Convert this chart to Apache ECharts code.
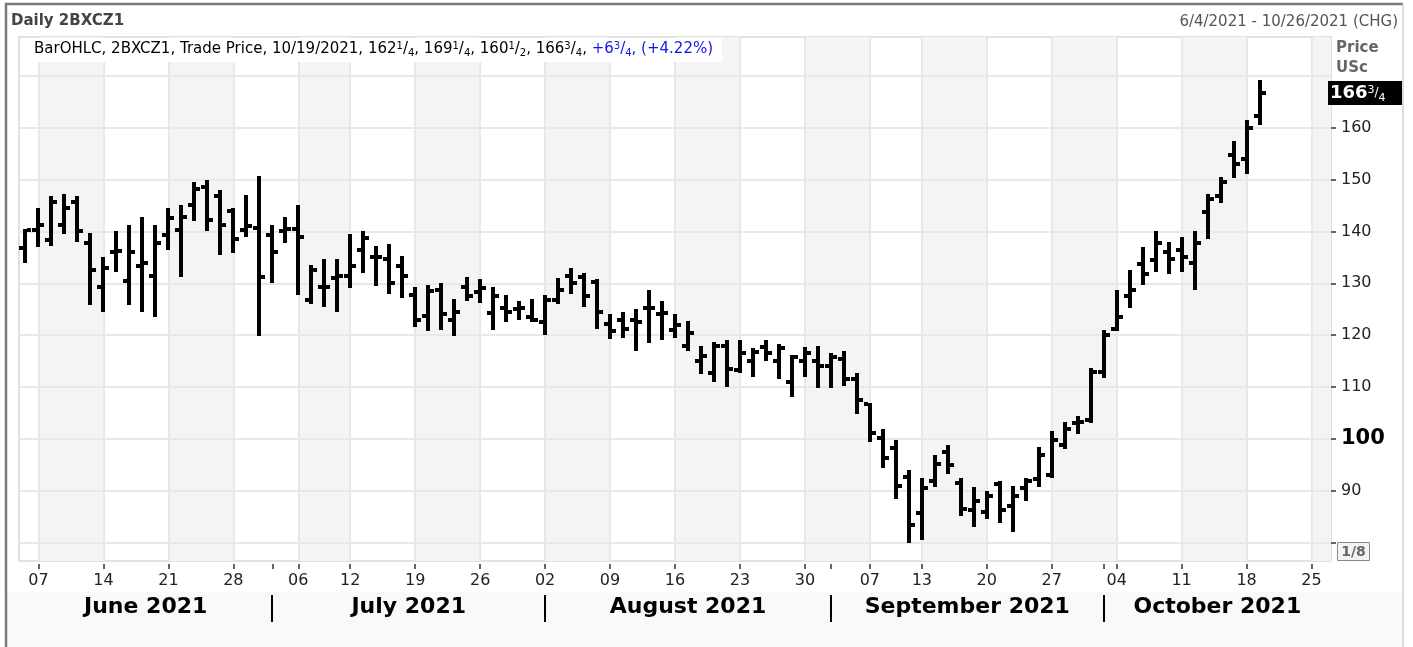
<!DOCTYPE html>
<html>
<head>
<meta charset="utf-8">
<title>Daily 2BXCZ1</title>
<script src="https://cdn.jsdelivr.net/npm/echarts@6/dist/echarts.min.js"></script>
<style>
html, body { margin: 0; padding: 0; background: #fff; }
#chart { width: 1413px; height: 647px; }
</style>
</head>
<body>
<div id="chart"></div>
<script>
// trading days shown on the axis (6/4/2021 - 10/26/2021)
var dates = [
  '06/04','06/07','06/08','06/09','06/10','06/11','06/14','06/15','06/16','06/17','06/18',
  '06/21','06/22','06/23','06/24','06/25','06/28','06/29','06/30',
  '07/01','07/02','07/06','07/07','07/08','07/09','07/12','07/13','07/14','07/15','07/16',
  '07/19','07/20','07/21','07/22','07/23','07/26','07/27','07/28','07/29','07/30',
  '08/02','08/03','08/04','08/05','08/06','08/09','08/10','08/11','08/12','08/13',
  '08/16','08/17','08/18','08/19','08/20','08/23','08/24','08/25','08/26','08/27','08/30','08/31',
  '09/01','09/02','09/03','09/07','09/08','09/09','09/10','09/13','09/14','09/15','09/16','09/17',
  '09/20','09/21','09/22','09/23','09/24','09/27','09/28','09/29','09/30',
  '10/01','10/04','10/05','10/06','10/07','10/08','10/11','10/12','10/13','10/14','10/15',
  '10/18','10/19','10/20','10/21','10/22','10/25','10/26'
];

// OHLC, US cents (through 10/19)
var opens = [
  136.75,140.25,138.25,141.25,145.75,137.75,129.25,136,130.5,133.25,131.5,139.25,140.25,145,148.5,146.75,144,140.25,140.75,
  139.25,140,140.5,126.75,129.25,131,131.5,136.5,135,134.75,133.25,127.75,123.75,128.75,123,129.25,128.25,124.25,125.25,125,123.5,
  122.5,126.75,131.5,131.25,130.25,122.25,123,123,125.25,124,121,118,115,112.75,118,113.25,115,117.75,115,111,115,115,
  114,115.5,111.5,106.75,100.25,98.25,92.75,85.75,92,97.5,91.5,86.25,86,91.25,87,90.5,92.25,93,98.75,103,103.75,
  113,121.25,127.5,133.75,134.5,136,136.5,134,143.75,146.75,154.75,154,162.25
];
var highs = [
  140.5,144.5,146.75,147.25,146.75,139.75,135,140,141.25,142.75,141.25,144.5,145,149.5,150,148,144.5,147,150.75,
  141.25,142.75,145,133.5,134.75,134.75,139.5,140,137.25,137.5,135.25,129.25,129.75,130,127,131.25,130.75,129.25,127.75,126.5,127,
  127.75,131,133,132,130.75,124,124.5,125,128.75,126.5,124,122.75,118,118.75,119,119,117.5,119,118.25,116.25,117.75,118,
  116.5,117,112.75,107,102,99.75,94,92.5,97,98.75,92.5,90.75,90,92,91,92.5,98.5,101.5,103.25,104.5,113.75,
  121,128.75,132.5,137,140,138,139,140,147.25,150.5,157.5,161.5,169.25
];
var lows = [
  134,137,137.25,139.5,138,125.75,124.5,132.25,125.75,124.5,123.5,136.5,131.25,142,140,135.5,135.75,139,119.75,
  130,137.75,127.75,126,125.5,124.5,129,132,129.5,128,127.25,121.5,120.75,121,119.75,126.5,126.25,121,122.5,123,122.5,
  120,126,128,125.5,121.25,119.25,119.5,117,118.5,119,119.5,117,112.5,111,110,112.75,112,115,111.5,108,112,109.75,
  109.75,110.25,104.75,99.5,94.5,88.5,80,80.5,90.75,93.25,85.25,83,84.5,83.75,82,88,90.75,92.5,98,101,103,
  111.75,120.75,125.25,129.75,132.25,131.75,132.25,128.75,138.5,145.5,150.25,151,160.5
];
var closes = [
  140.25,141.25,145.75,144.5,140,132.5,133,136.25,136,134,137.75,142.5,142.75,148.25,142.25,141.25,138.5,141,131.25,
  136,140.5,139,132.5,129.25,131.5,133.25,138.75,135,130,131.5,123,128.5,124,124.5,127.5,129,127.5,124.5,125.25,123,
  126.75,128.75,130,127.5,124.5,120.75,121.25,122.5,125.25,124.25,122,120.5,116,118,113.5,116.5,116.75,116.5,117.5,115.75,116.5,114,
  115.75,111.5,107.5,101.25,96.25,91,83.5,90.5,95.25,95,86.5,88,89,86.25,89,92,97,99.75,102,103.25,113,
  120,123.5,128.75,131.75,137.75,134.75,135,137.75,146.25,149.5,153,160,166.75
];

var weekStarts = ['06/07','06/14','06/21','06/28','07/06','07/12','07/19','07/26','08/02','08/09','08/16','08/23','08/30',
  '09/07','09/13','09/20','09/27','10/04','10/11','10/18','10/25'];
var shadedWeeks = [['06/07','06/14'],['06/21','06/28'],['07/06','07/12'],['07/19','07/26'],['08/02','08/09'],['08/16','08/23'],
  ['08/30','09/07'],['09/13','09/20'],['09/27','10/04'],['10/11','10/18'],['10/25',null]];
var monthStarts = ['07/01','08/02','09/01','10/01'];
var monthNames = ['June 2021','July 2021','August 2021','September 2021','October 2021'];
var gridValues = [80,90,100,110,120,130,140,150,160,170];
var tickValues = [80,90,100,110,120,130,140,150,160];
var labelValues = [90,100,110,120,130,140,150,160];

var FONT = 'DejaVu Sans';
var tickSet = {};
weekStarts.concat(monthStarts).forEach(function (d) { tickSet[d] = true; });
var labelSet = {};
weekStarts.forEach(function (d) { labelSet[d] = true; });

var ohlc = [];
for (var i = 0; i < closes.length; i++) {
  ohlc.push([i, opens[i], highs[i], lows[i], closes[i]]);
}

function renderBar(params, api) {
  var idx = api.value(0);
  var o = api.coord([idx, api.value(1)]);
  var h = api.coord([idx, api.value(2)]);
  var l = api.coord([idx, api.value(3)]);
  var c = api.coord([idx, api.value(4)]);
  var x = Math.round(o[0]);
  var yh = Math.round(h[1]), yl = Math.round(l[1]);
  var yo = Math.round(o[1]), yc = Math.round(c[1]);
  return {
    type: 'group',
    children: [
      { type: 'rect', shape: { x: x - 2, y: yh, width: 4, height: yl - yh }, style: { fill: '#000' } },
      { type: 'rect', shape: { x: x - 6, y: yo - 2, width: 4, height: 4 }, style: { fill: '#000' } },
      { type: 'rect', shape: { x: x + 2, y: yc - 2, width: 4, height: 4 }, style: { fill: '#000' } }
    ]
  };
}

var chart = echarts.init(document.getElementById('chart'));

var option = {
  animation: false,
  backgroundColor: '#fff',
  textStyle: { fontFamily: FONT },
  grid: {
    left: 19, top: 37, width: 1312, height: 524,
    show: true, borderColor: '#d8d8d8', borderWidth: 1.5, backgroundColor: '#fff'
  },
  xAxis: {
    type: 'category',
    data: dates,
    boundaryGap: true,
    offset: 3,
    axisLine: { show: false },
    axisTick: {
      show: true, alignWithLabel: true, length: 5,
      interval: function (i, v) { return !!tickSet[v]; },
      lineStyle: { color: '#333', width: 1.5 }
    },
    axisLabel: {
      interval: function (i, v) { return !!labelSet[v]; },
      formatter: function (v) { return v.slice(3); },
      fontFamily: FONT, fontSize: 16, color: '#222', margin: 9
    },
    splitLine: { show: false }
  },
  yAxis: {
    type: 'value',
    position: 'right',
    min: 76.49,
    max: 177.46,
    axisLine: { show: false },
    axisTick: {
      show: true, length: 5, customValues: tickValues,
      lineStyle: { color: '#333', width: 1.5 }
    },
    axisLabel: {
      customValues: labelValues,
      margin: 10,
      fontFamily: FONT, fontSize: 16, color: '#222',
      formatter: function (v) { return v === 100 ? '{b|100}' : '' + v; },
      rich: { b: { fontFamily: FONT, fontSize: 21, fontWeight: 'bold', color: '#000' } }
    },
    splitLine: { show: false }
  },
  series: [
    {
      name: 'bands', type: 'line', data: [], z: 1, silent: true,
      markArea: {
        silent: true, z: 1,
        itemStyle: { color: '#f4f4f4' },
        data: shadedWeeks.map(function (w) {
          return [{ xAxis: w[0] }, w[1] ? { xAxis: w[1] } : {}];
        })
      }
    },
    {
      name: 'gridlines', type: 'line', data: [], z: 2, silent: true,
      markLine: {
        silent: true, z: 2, symbol: 'none', label: { show: false },
        lineStyle: { color: '#e8e8e8', width: 2, type: 'solid' },
        data: gridValues.map(function (v) { return { yAxis: v }; })
          .concat(weekStarts.map(function (d) { return { xAxis: d }; }))
      }
    },
    {
      name: '2BXCZ1', type: 'custom', z: 10,
      renderItem: renderBar,
      encode: { x: 0, y: [1, 2, 3, 4] },
      data: ohlc
    }
  ]
};
chart.setOption(option);

// price with quarter fractions as rich text
function quarterRich(v, sfx) {
  var sign = v < 0 ? '-' : '';
  v = Math.abs(v);
  var w = Math.floor(v + 1e-9);
  var q = Math.round((v - w) * 4);
  var fr = ['', '1/4', '1/2', '3/4'][q];
  var s = '{n' + sfx + '|' + sign + w + '}';
  if (fr) {
    var p = fr.split('/');
    s += '{u' + sfx + '|' + p[0] + '}{n' + sfx + '|/}{d' + sfx + '|' + p[1] + '}';
  }
  return s;
}

function richSet(sfx, color, size) {
  var r = {};
  r['n' + sfx] = { fontFamily: FONT, fontSize: size, fill: color, lineHeight: 20, verticalAlign: 'middle' };
  r['u' + sfx] = { fontFamily: FONT, fontSize: size - 5, fill: color, lineHeight: 20, verticalAlign: 'top', padding: [2, 0, 0, 0] };
  r['d' + sfx] = { fontFamily: FONT, fontSize: size - 5, fill: color, lineHeight: 20, verticalAlign: 'bottom', padding: [0, 0, 1, 0] };
  return r;
}

function buildGraphics() {
  var last = closes.length - 1;
  var chg = closes[last] - closes[last - 1];
  var pct = chg / closes[last - 1] * 100;
  var legendText = '{nK|BarOHLC, 2BXCZ1, Trade Price, 10/19/2021, }' +
    quarterRich(opens[last], 'K') + '{nK|, }' + quarterRich(highs[last], 'K') + '{nK|, }' +
    quarterRich(lows[last], 'K') + '{nK|, }' + quarterRich(closes[last], 'K') + '{nK|, }' +
    '{nB|+}' + quarterRich(chg, 'B') + '{nB|, (+' + pct.toFixed(2) + '%)}';
  var rich = Object.assign({}, richSet('K', '#000', 15), richSet('B', '#1515e6', 15));

  var xOf = function (d) { return chart.convertToPixel({ xAxisIndex: 0 }, d); };
  var yOf = function (v) { return chart.convertToPixel({ yAxisIndex: 0 }, v); };
  var gLeft = 19, gRight = 19 + 1312;
  var bounds = [gLeft].concat(monthStarts.map(xOf)).concat([gRight]);

  var g = [];
  // panel frame and bottom strip
  g.push({ type: 'rect', shape: { x: 7, y: 592, width: 1395, height: 55 }, style: { fill: '#f9f9f9' }, z: 0 });
  g.push({ type: 'polyline', shape: { points: [[6, 647], [6, 4], [1403, 4]] }, style: { stroke: '#7a7a7a', lineWidth: 2.5, fill: null } });
  g.push({ type: 'line', shape: { x1: 1403, y1: 4, x2: 1403, y2: 647 }, style: { stroke: '#d0d0d0', lineWidth: 1.5 } });
  // header
  g.push({ type: 'text', x: 11, y: 21, style: { text: 'Daily 2BXCZ1', font: 'bold 15px "DejaVu Sans"', fill: '#444', verticalAlign: 'middle' } });
  g.push({ type: 'text', x: 1398, y: 22, style: { text: '6/4/2021 - 10/26/2021 (CHG)', font: '15px "DejaVu Sans"', fill: '#555', align: 'right', verticalAlign: 'middle' } });
  // legend box
  g.push({ type: 'rect', shape: { x: 20, y: 38, width: 702, height: 24 }, style: { fill: '#fff' }, z: 10 });
  g.push({ type: 'text', x: 34, y: 49, z: 11, style: { text: legendText, rich: rich, verticalAlign: 'middle' } });
  // price axis captions
  g.push({ type: 'text', x: 1336, y: 48, style: { text: 'Price', font: 'bold 15px "DejaVu Sans"', fill: '#666', verticalAlign: 'middle' } });
  g.push({ type: 'text', x: 1336, y: 68, style: { text: 'USc', font: 'bold 15px "DejaVu Sans"', fill: '#666', verticalAlign: 'middle' } });
  // last price box
  var py = yOf(closes[last]);
  g.push({ type: 'rect', shape: { x: 1328, y: Math.round(py) - 12, width: 74, height: 24 }, style: { fill: '#000' }, z: 10 });
  var wPart = Math.floor(closes[last]);
  g.push({ type: 'text', x: 1330, y: Math.round(py), z: 11, style: {
    text: '{b|' + wPart + '}{u|3}{s|/}{d|4}', verticalAlign: 'middle',
    rich: {
      b: { fontFamily: FONT, fontSize: 18, fontWeight: 'bold', fill: '#fff', lineHeight: 22, verticalAlign: 'middle' },
      u: { fontFamily: FONT, fontSize: 11, fill: '#fff', verticalAlign: 'top', lineHeight: 22, padding: [3, 0, 0, 0] },
      s: { fontFamily: FONT, fontSize: 12, fill: '#fff', lineHeight: 22, verticalAlign: 'middle' },
      d: { fontFamily: FONT, fontSize: 11, fill: '#fff', verticalAlign: 'bottom', lineHeight: 22 }
    }
  } });
  // fraction mode box
  g.push({ type: 'rect', shape: { x: 1337.5, y: 542.5, width: 32, height: 18 }, style: { fill: '#f2f2f2', stroke: '#888', lineWidth: 1 } });
  g.push({ type: 'text', x: 1353.5, y: 552, style: { text: '1/8', font: 'bold 14px "DejaVu Sans"', fill: '#666', align: 'center', verticalAlign: 'middle' } });
  // months
  for (var m = 0; m < monthNames.length; m++) {
    g.push({ type: 'text', x: (bounds[m] + bounds[m + 1]) / 2, y: 607, style: {
      text: monthNames[m], font: 'bold 22px "DejaVu Sans"', fill: '#000', align: 'center', verticalAlign: 'middle' } });
  }
  monthStarts.forEach(function (d) {
    var x = Math.round(xOf(d));
    g.push({ type: 'line', shape: { x1: x, y1: 595, x2: x, y2: 622 }, style: { stroke: '#000', lineWidth: 2 } });
  });
  return g;
}

chart.setOption({ graphic: buildGraphics() });
</script>
</body>
</html>
